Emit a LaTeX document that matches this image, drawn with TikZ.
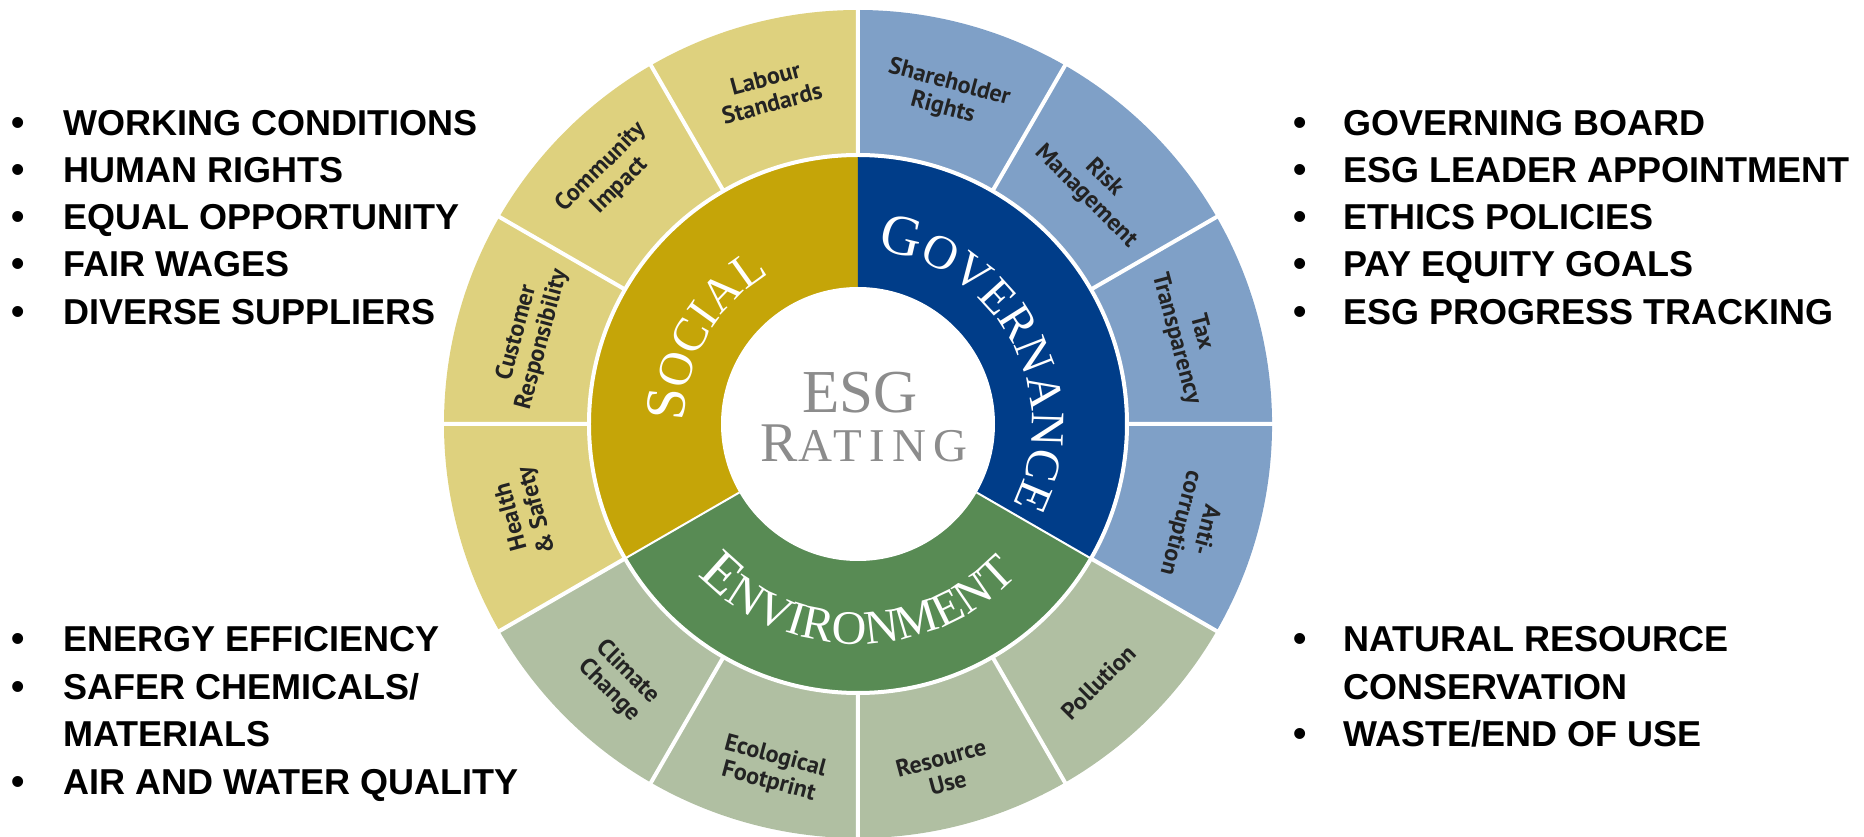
\documentclass[tikz,border=0pt]{standalone}
\usepackage{fontspec}
\usetikzlibrary{positioning}
\usetikzlibrary{decorations.text}
\setmainfont{Liberation Sans}
\newfontfamily\listfam{Liberation Sans}
\newfontfamily\ringfam{Liberation Serif}
\newfontfamily\segfam{PT Sans}
\definecolor{socialpale}{RGB}{222,209,126}
\definecolor{socialdark}{RGB}{197,165,8}
\definecolor{govpale}{RGB}{127,160,199}
\definecolor{govdark}{RGB}{0,61,137}
\definecolor{envpale}{RGB}{176,191,162}
\definecolor{envdark}{RGB}{88,139,84}
\definecolor{ratinggray}{RGB}{140,140,140}
\definecolor{ink}{RGB}{35,35,35}
\newcommand\ringbig{\ringfam\fontsize{57}{60}\selectfont}
\newcommand\ringsmall{\ringfam\fontsize{48}{50}\selectfont}

\begin{document}
\begin{tikzpicture}[
  x = 1pt, y = 1pt,
  sepline/.style = {white, line width = 4pt},
  thinsep/.style = {white, line width = 2pt},
  topiclabel/.style = {font = \segfam\bfseries\fontsize{24}{26}\selectfont, text = ink, align = center, inner sep = 0pt},
  listline/.style = {font = \listfam\bfseries\fontsize{36}{40}\selectfont, anchor = base west, inner sep = 0pt},
  listdot/.style = {font = \listfam\bfseries\fontsize{38}{38}\selectfont, anchor = base, inner sep = 0pt},
  ringword/.style = {decorate, decoration = {text along path, text align = center, text color = white}},
]

  \useasboundingbox (-858,-413) rectangle (1006,424);

  \coordinate (O) at (0,0);

  % outer ring
  \fill[socialpale] (O) -- (90:414) arc[start angle = 90, end angle = 210, radius = 414] -- cycle;
  \fill[envpale] (O) -- (210:414) arc[start angle = 210, end angle = 330, radius = 414] -- cycle;
  \fill[govpale] (O) -- (330:414) arc[start angle = 330, end angle = 450, radius = 414] -- cycle;

  % middle ring
  \fill[socialdark] (O) -- (90:269) arc[start angle = 90, end angle = 210, radius = 269] -- cycle;
  \fill[envdark] (O) -- (210:269) arc[start angle = 210, end angle = 330, radius = 269] -- cycle;
  \fill[govdark] (O) -- (330:269) arc[start angle = 330, end angle = 450, radius = 269] -- cycle;

  \draw[sepline] (0:269) -- (0:416) (30:269) -- (30:416) (60:269) -- (60:416)
    (90:269) -- (90:416) (120:269) -- (120:416) (150:269) -- (150:416)
    (180:269) -- (180:416) (210:269) -- (210:416) (240:269) -- (240:416)
    (270:269) -- (270:416) (300:269) -- (300:416) (330:269) -- (330:416);
  \draw[thinsep] (210:137) -- (210:269) (330:137) -- (330:269);
  \draw[sepline] (O) circle[radius = 269];
  \fill[white] (O) circle[radius = 137];

  \path[ringword, decoration = {text = {|\ringbig|S|\ringsmall|OCIAL}}]
    (195:174) arc[start angle = 195, end angle = 105, radius = 174];
  \path[ringword, decoration = {text = {|\ringbig|G|\ringsmall|OVERNANCE}}]
    (88:174) arc[start angle = 88, end angle = -32, radius = 174];
  \path[ringword, decoration = {text = {|\ringbig|E|\ringsmall|NVIRONMENT}}]
    (200:220) arc[start angle = 200, end angle = 340, radius = 220];

  \node[font = \ringfam\fontsize{61}{61}\selectfont, text = ratinggray, anchor = base, inner sep = 0pt] (esg) at (2,11) {ESG};
  \node[font = \ringfam\addfontfeatures{LetterSpace=15}, text = ratinggray, anchor = base, inner sep = 0pt] (rating) at (6,-38)
    {\fontsize{56}{56}\selectfont R\fontsize{47}{47}\selectfont ATING};

  \node[topiclabel, rotate = 15] (labour) at (105:345) {Labour\\Standards};
  \node[topiclabel, rotate = 45] (community) at (135:350) {Community\\Impact};
  \node[topiclabel, rotate = 75] (customer) at (165:340) {Customer\\Responsibility};
  \node[topiclabel, rotate = 105] (health) at (195:345) {Health\\\& Safety};

  \node[topiclabel, rotate = -15] (shareholder) at (75:340) {Shareholder\\Rights};
  \node[topiclabel, rotate = -45] (risk) at (45:335) {Risk\\Management};
  \node[topiclabel, rotate = -75] (tax) at (15:342) {Tax\\Transparency};
  \node[topiclabel, rotate = -105] (anti) at (-17:350) {Anti-\\corruption};

  \node[topiclabel, rotate = -45] (climate) at (227:352) {Climate\\Change};
  \node[topiclabel, rotate = -15] (ecological) at (256:356) {Ecological\\Footprint};
  \node[topiclabel, rotate = 15] (resource) at (284:357) {Resource\\Use};
  \node[topiclabel, rotate = 45] (pollution) at (313:353) {Pollution};

  % social list
  \node[listdot] (sdot1) at (-840,288) {\textbullet};
  \node[listline] (sline1) at (-795,288) {WORKING CONDITIONS};
  \node[listdot] (sdot2) at (-840,241) {\textbullet};
  \node[listline] (sline2) at (-795,241) {HUMAN RIGHTS};
  \node[listdot] (sdot3) at (-840,194) {\textbullet};
  \node[listline] (sline3) at (-795,194) {EQUAL OPPORTUNITY};
  \node[listdot] (sdot4) at (-840,147) {\textbullet};
  \node[listline] (sline4) at (-795,147) {FAIR WAGES};
  \node[listdot] (sdot5) at (-840,99) {\textbullet};
  \node[listline] (sline5) at (-795,99) {DIVERSE SUPPLIERS};

  % governance list
  \node[listdot] (gdot1) at (442,288) {\textbullet};
  \node[listline] (gline1) at (485,288) {GOVERNING BOARD};
  \node[listdot] (gdot2) at (442,241) {\textbullet};
  \node[listline] (gline2) at (485,241) {ESG LEADER APPOINTMENT};
  \node[listdot] (gdot3) at (442,194) {\textbullet};
  \node[listline] (gline3) at (485,194) {ETHICS POLICIES};
  \node[listdot] (gdot4) at (442,147) {\textbullet};
  \node[listline] (gline4) at (485,147) {PAY EQUITY GOALS};
  \node[listdot] (gdot5) at (442,99) {\textbullet};
  \node[listline] (gline5) at (485,99) {ESG PROGRESS TRACKING};

  % environment lists
  \node[listdot] (edot1) at (-840,-228) {\textbullet};
  \node[listline] (eline1) at (-795,-228) {ENERGY EFFICIENCY};
  \node[listdot] (edot2) at (-840,-275.5) {\textbullet};
  \node[listline] (eline2) at (-795,-275.5) {SAFER CHEMICALS/};
  \node[listline] (eline3) at (-795,-323) {MATERIALS};
  \node[listdot] (edot4) at (-840,-370.5) {\textbullet};
  \node[listline] (eline4) at (-795,-370.5) {AIR AND WATER QUALITY};

  \node[listdot] (rdot1) at (442,-228) {\textbullet};
  \node[listline] (rline1) at (485,-228) {NATURAL RESOURCE};
  \node[listline] (rline2) at (485,-275.5) {CONSERVATION};
  \node[listdot] (rdot3) at (442,-323) {\textbullet};
  \node[listline] (rline3) at (485,-323) {WASTE/END OF USE};

\end{tikzpicture}
\end{document}
